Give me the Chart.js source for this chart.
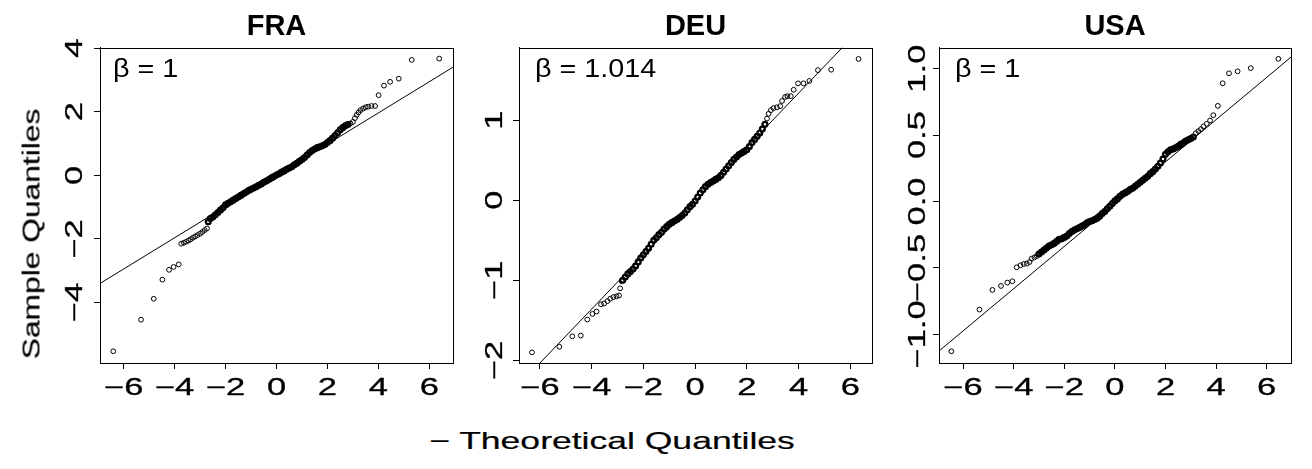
<!DOCTYPE html>
<html>
<head>
<meta charset="utf-8">
<script src="https://cdn.jsdelivr.net/npm/chart.js@4.4.1/dist/chart.umd.min.js"></script>
<style>
  html, body { margin: 0; padding: 0; background: #fff; }
  #wrap { position: relative; width: 1312px; height: 469px; overflow: hidden;
          font-family: "Liberation Sans", Arial, sans-serif; color: #000; }
  canvas { position: absolute; top: 0; }
  .axis-title { position: absolute; white-space: nowrap; line-height: 1; -webkit-text-stroke: 0.2px #000; }
  #ylab { font-size: 23px; left: 32px; top: 234px; transform: translate(-50%, -50%) rotate(-90deg) scaleX(1.38); }
  #xlab { font-size: 24px; left: 612px; top: 441px; transform: translate(-50%, -50%) scaleX(1.48); }
</style>
</head>
<body>
<div id="wrap">
  <canvas id="cFRA" width="463" height="400" style="left:0px"></canvas>
  <canvas id="cDEU" width="463" height="400" style="left:419px"></canvas>
  <canvas id="cUSA" width="463" height="400" style="left:839px"></canvas>
  <div class="axis-title" id="ylab">Sample Quantiles</div>
  <div class="axis-title" id="xlab">− Theoretical Quantiles</div>
</div>
<script>
// ── QQ plots, three countries ────────────────────────────────
// values as [theoretical, sample]
// CORE = the dense middle where the circles pile up, TAIL = the loose ends

const FONT = '"Liberation Sans", Arial, sans-serif';
const TICK_PX = 23, TICK_STRETCH = 1.5;
const BETA_PX = 25, BETA_STRETCH = 1.15;

const X_TICKS = [-6, -4, -2, 0, 2, 4, 6];
const FRA_Y_TICKS = [-4, -2, 0, 2, 4];
const DEU_Y_TICKS = [-2, -1, 0, 1];
const USA_Y_TICKS = [-1.0, -0.5, 0.0, 0.5, 1.0];

const TITLES = ['FRA', 'DEU', 'USA'];
const BETAS = ['β = 1', 'β = 1.014', 'β = 1'];

// reference lines (endpoints at the plot box edges)
const FRA_LINE = [[-6.93, -3.40], [6.93, 3.40]];
const DEU_LINE = [[-6.81, -2.306], [6.84, 2.294]];
const USA_LINE = [[-6.95, -1.125], [6.96, 1.087]];

const FRA_TAIL = [
  [-6.41,-5.53],[-5.32,-4.54],[-4.82,-3.88],[-4.48,-3.28],[-4.22,-2.97],[-4.04,-2.88],[-3.84,-2.80],
  [-3.74,-2.15],[-3.64,-2.12],[-3.55,-2.09],[-3.46,-2.05],[-3.37,-2.01],[-3.28,-1.96],[-3.19,-1.92],
  [-3.10,-1.88],[-3.00,-1.83],[-2.91,-1.78],[-2.82,-1.72],[-2.73,-1.67],
  [2.9,1.63],[3.0,1.68],[3.08,1.80],[3.15,1.90],[3.22,1.98],[3.30,2.05],[3.40,2.10],[3.50,2.14],
  [3.60,2.16],[3.73,2.18],[3.87,2.18],
  [4.01,2.52],[4.22,2.82],[4.46,2.94],[4.80,3.04],[5.31,3.63],[6.39,3.67]
];
const FRA_CORE = [
  [-2.68,-1.46],[-2.6,-1.36],[-2.5,-1.31],[-2.4,-1.24],[-2.3,-1.17],[-2.2,-1.09],[-2.1,-1.02],
  [-2.0,-0.93],[-1.9,-0.88],[-1.8,-0.83],[-1.7,-0.78],[-1.6,-0.73],[-1.5,-0.68],[-1.4,-0.63],
  [-1.3,-0.58],[-1.2,-0.53],[-1.1,-0.48],[-1.0,-0.44],[-0.9,-0.40],[-0.8,-0.36],[-0.7,-0.31],
  [-0.6,-0.27],[-0.5,-0.22],[-0.4,-0.18],[-0.3,-0.13],[-0.2,-0.08],[-0.1,-0.04],[0.0,0.01],
  [0.1,0.05],[0.2,0.10],[0.3,0.14],[0.4,0.19],[0.5,0.23],[0.6,0.27],[0.7,0.33],[0.8,0.38],
  [0.9,0.44],[1.0,0.50],[1.1,0.56],[1.2,0.64],[1.3,0.72],[1.4,0.78],[1.5,0.83],[1.6,0.87],
  [1.7,0.90],[1.8,0.93],[1.9,0.97],[2.0,1.03],[2.1,1.09],[2.2,1.17],[2.3,1.25],[2.4,1.34],
  [2.5,1.43],[2.6,1.50],[2.7,1.56],[2.8,1.60]
];

const DEU_TAIL = [
  [-6.31,-1.90],[-5.25,-1.83],[-4.75,-1.70],[-4.42,-1.69],[-4.17,-1.49],[-3.97,-1.42],[-3.81,-1.39],
  [-3.64,-1.30],[-3.52,-1.29],[-3.39,-1.26],[-3.28,-1.23],[-3.16,-1.21],[-3.04,-1.20],[-2.94,-1.19],
  [-2.90,-1.10],[-2.84,-1.01],
  [2.78,1.02],[2.84,1.08],[2.93,1.125],[3.03,1.15],[3.16,1.16],[3.29,1.175],[3.36,1.24],[3.48,1.29],
  [3.57,1.30],[3.70,1.30],[3.81,1.38],[3.98,1.46],[4.19,1.46],[4.42,1.49],[4.75,1.625],[5.26,1.63],
  [6.32,1.765]
];
const DEU_CORE = [
  [-2.8,-1.00],[-2.7,-0.96],[-2.6,-0.92],[-2.5,-0.89],[-2.4,-0.86],[-2.3,-0.82],[-2.2,-0.77],
  [-2.1,-0.72],[-2.0,-0.68],[-1.9,-0.64],[-1.8,-0.60],[-1.7,-0.55],[-1.6,-0.50],[-1.5,-0.47],
  [-1.4,-0.43],[-1.3,-0.40],[-1.2,-0.36],[-1.1,-0.33],[-1.0,-0.30],[-0.9,-0.28],[-0.8,-0.26],
  [-0.7,-0.24],[-0.6,-0.215],[-0.5,-0.19],[-0.4,-0.16],[-0.3,-0.12],[-0.2,-0.08],[-0.1,-0.05],
  [0.0,-0.01],[0.1,0.04],[0.2,0.09],[0.3,0.13],[0.4,0.17],[0.5,0.20],[0.6,0.22],[0.7,0.24],
  [0.8,0.26],[0.9,0.28],[1.0,0.31],[1.1,0.35],[1.2,0.39],[1.3,0.43],[1.4,0.47],[1.5,0.51],
  [1.6,0.54],[1.7,0.57],[1.8,0.59],[1.9,0.61],[2.0,0.63],[2.1,0.67],[2.2,0.72],[2.3,0.76],
  [2.4,0.80],[2.5,0.84],[2.6,0.89],[2.7,0.95]
];

const USA_TAIL = [
  [-6.46,-1.127],[-5.35,-0.813],[-4.84,-0.665],[-4.50,-0.635],[-4.25,-0.61],[-4.05,-0.60],
  [-3.88,-0.495],[-3.73,-0.48],[-3.60,-0.47],[-3.48,-0.467],[-3.37,-0.455],[-3.29,-0.43],
  [-3.18,-0.42],[-3.08,-0.41],
  [3.20,0.515],[3.30,0.53],[3.40,0.545],[3.50,0.565],[3.63,0.585],[3.76,0.61],[3.89,0.65],
  [4.07,0.72],[4.26,0.89],[4.51,0.965],[4.85,0.98],[5.37,1.004],[6.46,1.074]
];
const USA_CORE = [
  [-3.0,-0.395],[-2.9,-0.38],[-2.8,-0.365],[-2.7,-0.35],[-2.6,-0.335],[-2.5,-0.325],[-2.4,-0.315],
  [-2.3,-0.30],[-2.2,-0.285],[-2.1,-0.28],[-2.0,-0.27],[-1.9,-0.26],[-1.8,-0.24],[-1.7,-0.225],
  [-1.6,-0.215],[-1.5,-0.205],[-1.4,-0.195],[-1.3,-0.185],[-1.2,-0.175],[-1.1,-0.16],[-1.0,-0.15],
  [-0.9,-0.145],[-0.8,-0.135],[-0.7,-0.125],[-0.6,-0.11],[-0.5,-0.09],[-0.4,-0.075],[-0.3,-0.055],
  [-0.2,-0.035],[-0.1,-0.015],[0.0,0.005],[0.1,0.02],[0.2,0.04],[0.3,0.055],[0.4,0.065],[0.5,0.075],
  [0.6,0.09],[0.7,0.10],[0.8,0.115],[0.9,0.13],[1.0,0.145],[1.1,0.16],[1.2,0.175],[1.3,0.19],
  [1.4,0.21],[1.5,0.225],[1.6,0.245],[1.7,0.265],[1.8,0.29],[1.9,0.32],[2.0,0.355],[2.1,0.375],
  [2.2,0.39],[2.3,0.395],[2.4,0.405],[2.5,0.415],[2.6,0.43],[2.7,0.44],[2.8,0.455],[2.9,0.465],
  [3.0,0.475],[3.1,0.485]
];

// axis limits (R style, 4% beyond the data)
const FRA_X_RANGE = [-6.93, 6.93], FRA_Y_RANGE = [-5.90, 4.01];
const DEU_X_RANGE = [-6.81, 6.84], DEU_Y_RANGE = [-2.033, 1.904];
const USA_X_RANGE = [-6.95, 6.96], USA_Y_RANGE = [-1.215, 1.157];

function fmt(v, dec) {
  return (v < 0 ? '−' : '') + Math.abs(v).toFixed(dec);
}

// R's labels here come out wide; weight > 0 thickens them a little
function stretchText(ctx, text, x, y, rot, sx, weight) {
  ctx.save();
  ctx.translate(x, y);
  ctx.rotate(rot);
  ctx.scale(sx, 1);
  ctx.fillText(text, 0, 0);
  if (weight) {
    ctx.lineWidth = weight;
    ctx.strokeText(text, 0, 0);
  }
  ctx.restore();
}

// box, tick labels and the beta note
const rStyle = {
  id: 'rStyle',
  afterDatasetsDraw(chart, args, o) {
    const { ctx, chartArea: a, scales: { x, y } } = chart;
    ctx.save();
    ctx.strokeStyle = '#000';
    ctx.lineWidth = 1;
    ctx.strokeRect(Math.round(a.left) + 0.5, Math.round(a.top) + 0.5,
                   Math.round(a.right - a.left), Math.round(a.bottom - a.top));
    ctx.fillStyle = '#000';
    ctx.font = `${TICK_PX}px ${FONT}`;
    ctx.textAlign = 'center';
    ctx.textBaseline = 'alphabetic';
    x.ticks.forEach(t => stretchText(ctx, t.label, x.getPixelForValue(t.value), a.bottom + o.xBase, 0, TICK_STRETCH, 0.3));
    y.ticks.forEach(t => stretchText(ctx, t.label, a.left - o.yBase, y.getPixelForValue(t.value), -Math.PI / 2, TICK_STRETCH, 0.3));
    ctx.font = `${BETA_PX}px ${FONT}`;
    ctx.textAlign = 'left';
    stretchText(ctx, o.beta, a.left + o.betaX, a.top + o.betaY, 0, BETA_STRETCH, 0);
    ctx.restore();
  }
};

const circle = (pts, width) => ({
  type: 'scatter',
  data: pts.map(p => ({ x: p[0], y: p[1] })),
  pointRadius: 2.4,
  pointBorderWidth: width,
  pointBorderColor: '#000',
  pointBackgroundColor: 'rgba(0,0,0,0)',
});

function makePanel(id, idx, core, tail, line, xRange, yRange, yTicks, yDec, padRight, yBase, betaX) {
  new Chart(document.getElementById(id), {
    data: {
      datasets: [
        circle(tail, 1),
        circle(core, 2.3),
        {
          type: 'line',
          data: line.map(p => ({ x: p[0], y: p[1] })),
          borderColor: '#000',
          borderWidth: 1,
          pointRadius: 0,
          clip: 0,
        }
      ]
    },
    options: {
      responsive: false,
      animation: false,
      events: [],
      layout: { padding: { left: 0, right: padRight, top: 0, bottom: 0 } },
      scales: {
        x: {
          type: 'linear',
          min: xRange[0], max: xRange[1],
          afterBuildTicks: s => { s.ticks = X_TICKS.map(v => ({ value: v })); },
          afterFit: s => { s.height = 37; },
          ticks: { display: false, callback: v => fmt(v, 0) },
          grid: { drawOnChartArea: false, drawTicks: true, tickLength: 6, color: '#000', lineWidth: 1 },
          border: { display: true, color: '#000', width: 1 },
        },
        y: {
          type: 'linear',
          min: yRange[0], max: yRange[1],
          afterBuildTicks: s => { s.ticks = yTicks.map(v => ({ value: v })); },
          afterFit: s => { s.width = 100; },
          ticks: { display: false, callback: v => fmt(v, yDec) },
          grid: { drawOnChartArea: false, drawTicks: true, tickLength: 6, color: '#000', lineWidth: 1 },
          border: { display: true, color: '#000', width: 1 },
        }
      },
      plugins: {
        legend: { display: false },
        tooltip: { enabled: false },
        title: {
          display: true,
          text: TITLES[idx],
          fullSize: false,
          color: '#000',
          font: { family: FONT, size: 29, weight: 'bold', lineHeight: 1.2 },
          padding: { top: 10, bottom: 3 },
        },
        rStyle: { xBase: 32, yBase: yBase, beta: BETAS[idx], betaX: betaX, betaY: 29 },
      }
    },
    plugins: [rStyle]
  });
}

makePanel('cFRA', 0, FRA_CORE, FRA_TAIL, FRA_LINE, FRA_X_RANGE, FRA_Y_RANGE, FRA_Y_TICKS, 0, 10, 18, 13);
makePanel('cDEU', 1, DEU_CORE, DEU_TAIL, DEU_LINE, DEU_X_RANGE, DEU_Y_RANGE, DEU_Y_TICKS, 0, 10, 17.5, 16);
makePanel('cUSA', 2, USA_CORE, USA_TAIL, USA_LINE, USA_X_RANGE, USA_Y_RANGE, USA_Y_TICKS, 1, 11, 14.5, 16);
</script>
</body>
</html>
